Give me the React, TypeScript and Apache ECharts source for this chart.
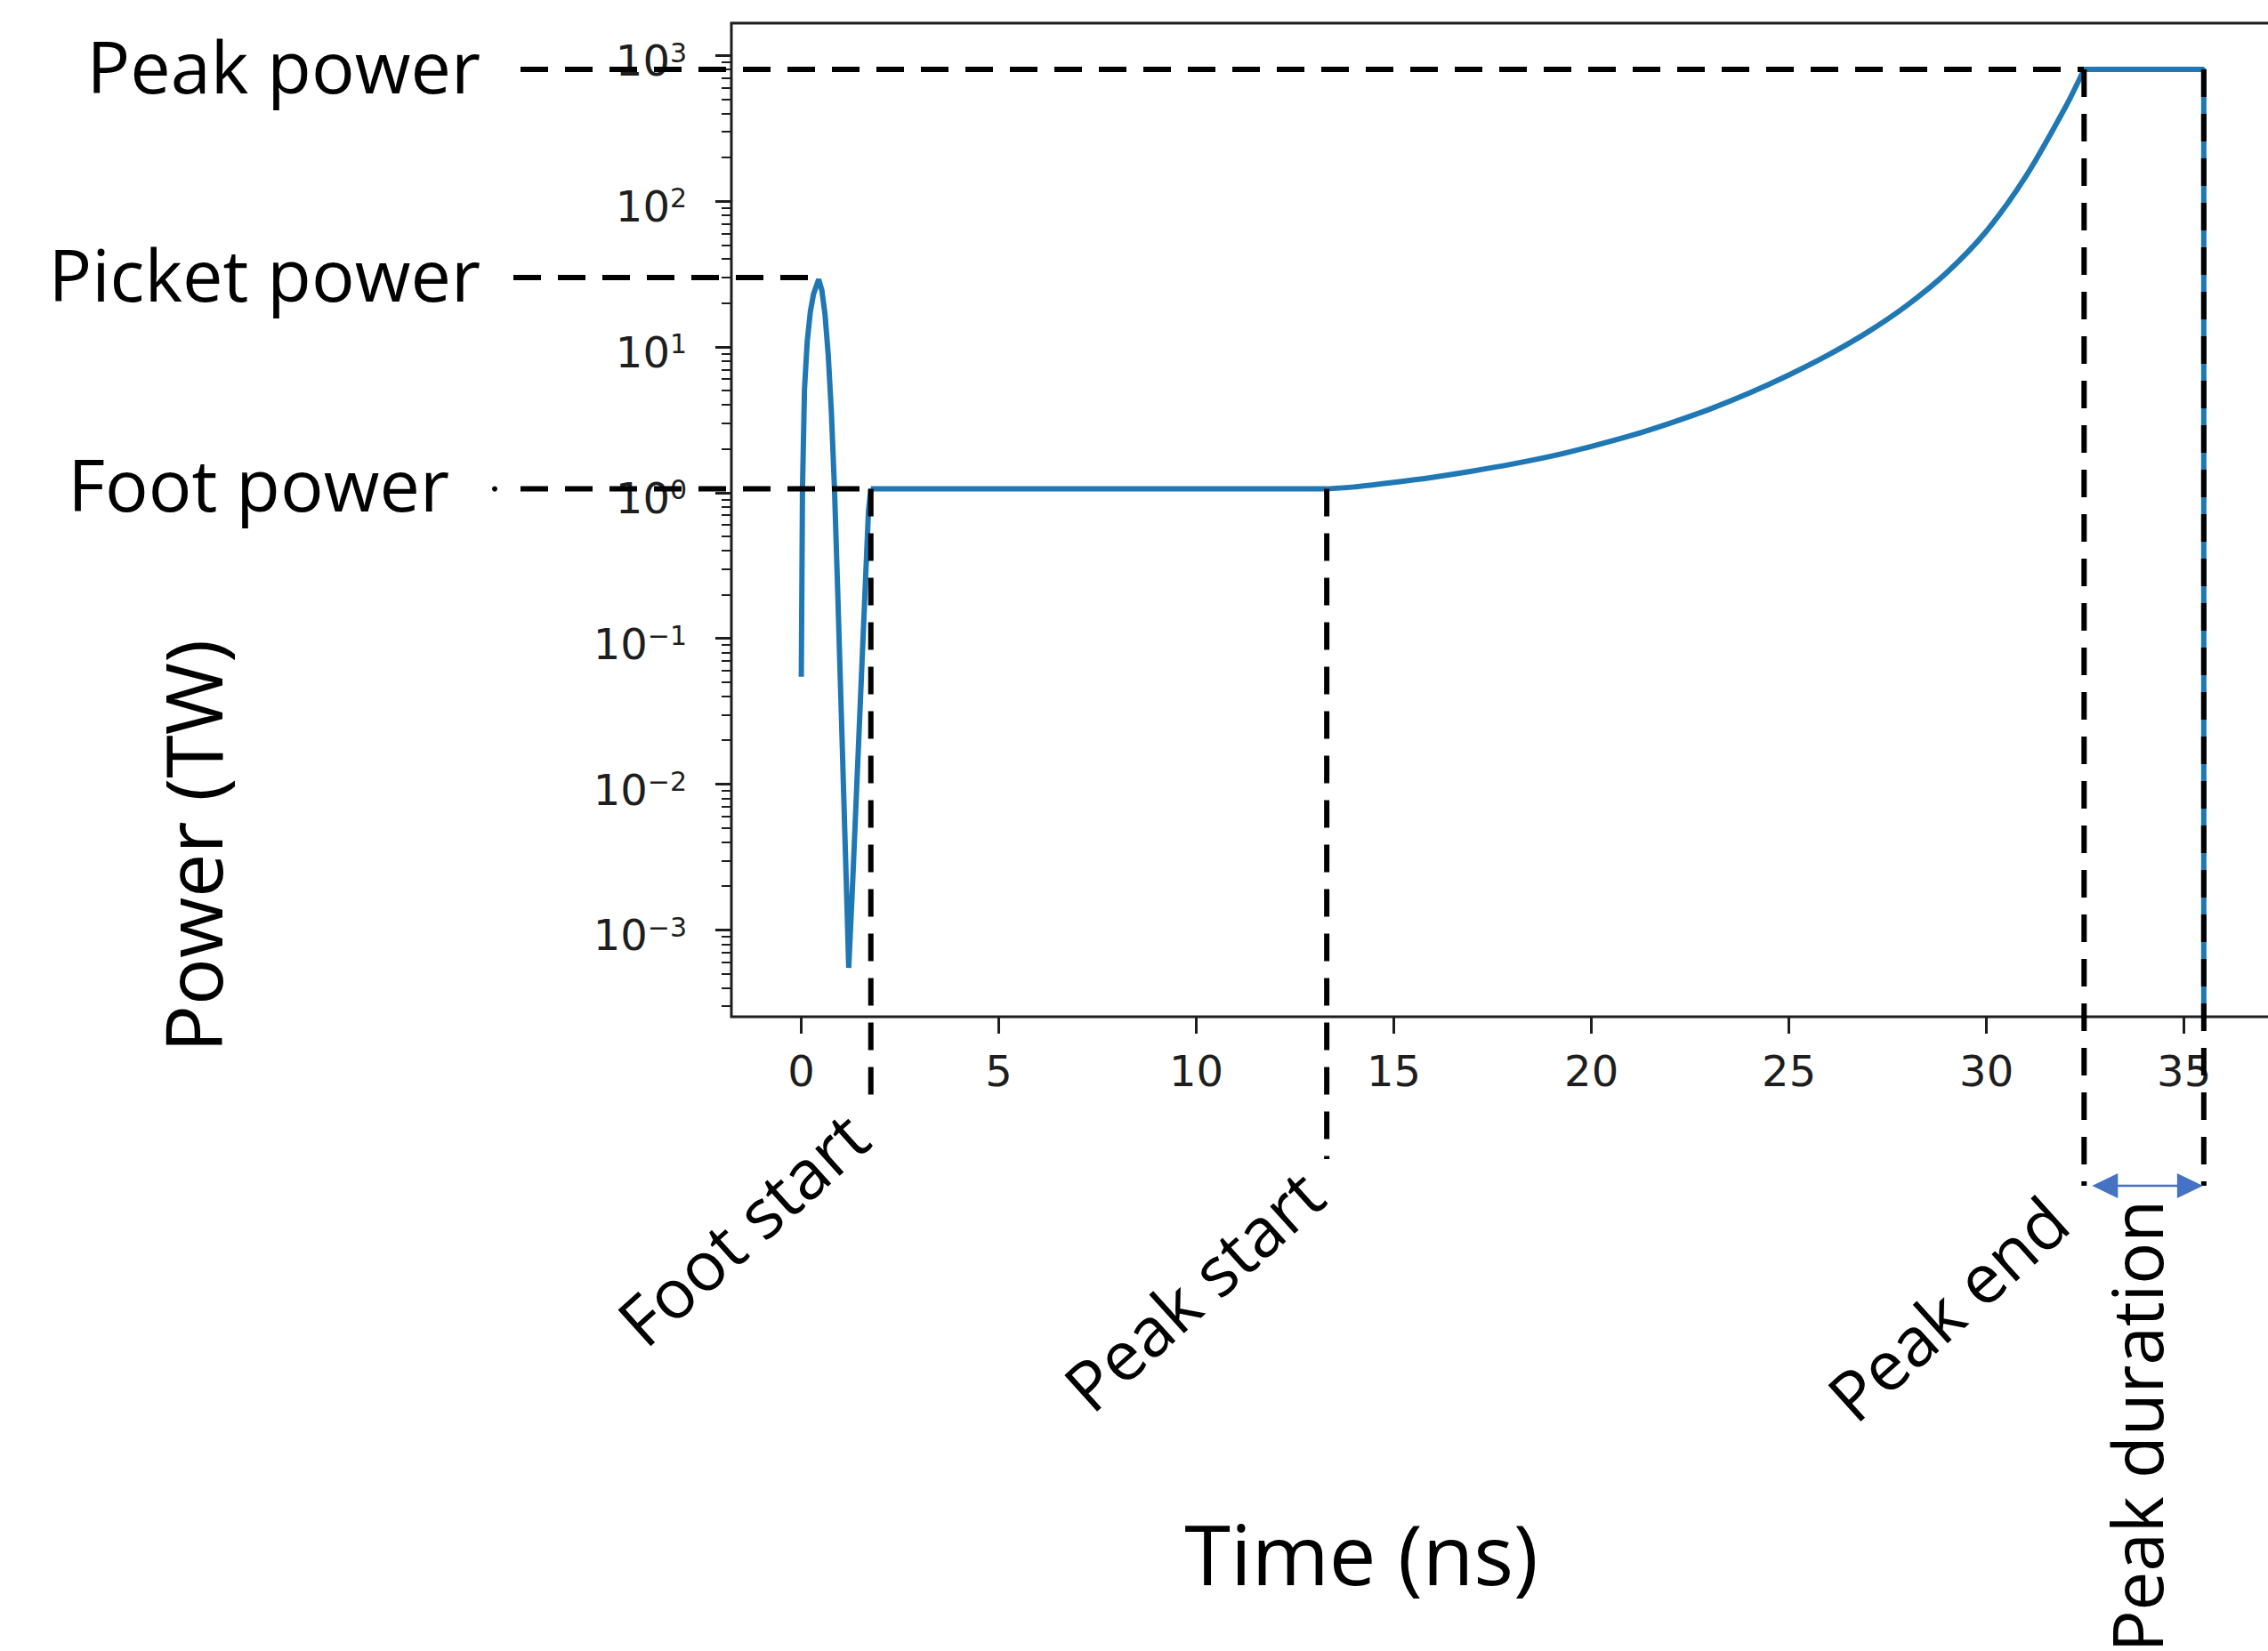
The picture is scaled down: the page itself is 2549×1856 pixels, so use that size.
import React, { useEffect, useRef } from "react";
import * as echarts from "echarts";

// ---- data (time in ns, power in TW) ----
const picketTime = [0, 0.03, 0.08, 0.15, 0.23, 0.31, 0.44, 0.52, 0.6, 0.68, 0.76, 0.84, 0.92, 1.0, 1.08, 1.16, 1.2, 1.3, 1.4, 1.5, 1.6, 1.7, 1.76];
const picketPower = [0.0546, 1.06, 5.08, 10.9, 17.5, 23.0, 29.0, 24.4, 16.7, 8.93, 3.62, 1.06, 0.216, 0.0398, 0.00735, 0.00135, 0.00055, 0.00212, 0.0092, 0.0398, 0.173, 0.746, 1.06];
const footTime = [1.76, 13.3];
const footPower = [1.06, 1.06];
const rampTime = [13.3, 14, 15, 16, 17, 18, 19, 20, 21, 22, 23, 24, 25, 26, 27, 28, 29, 30, 31, 32, 32.47];
const rampPower = [1.06, 1.094, 1.175, 1.276, 1.406, 1.57, 1.782, 2.075, 2.46, 3.0, 3.741, 4.819, 6.412, 8.81, 12.65, 19.36, 32.36, 62.23, 148.3, 441.6, 800];
const peakTime = [32.47, 35.5, 35.5];
const peakPower = [800, 800, 1e-9];

// annotation markers
const footStartTime = 1.76;
const peakStartTime = 13.3;
const peakEndTime = 32.47;
const peakStopTime = 35.5;
const footLevel = 1.06;
const picketTopTime = 0.44;
const picketLevel = 29;
const peakLevel = 800;

// axes
const xTicks = [0, 5, 10, 15, 20, 25, 30, 35];
const yTicks = [1e-3, 1e-2, 1e-1, 1, 10, 100, 1000];
const yTickExp = ["\u22123", "\u22122", "\u22121", "0", "1", "2", "3"];
const xMin = -1.77;
const xMax = 37.17;
const yMin = Math.pow(10, -3.595);
const yMax = Math.pow(10, 3.22);

const minorTicks: number[] = [];
for (let e = -4; e <= 3; e++) {
  for (let m = 2; m <= 9; m++) {
    const v = m * Math.pow(10, e);
    if (v > yMin && v < yMax) minorTicks.push(v);
  }
}

const BLUE = "#1f77b4";
const AXIS = "#1e1e1e";
const ANN_FONT = '"Open Sans", "Noto Sans", sans-serif';
const TICK_FONT = '"DejaVu Sans", sans-serif';

const toPairs = (xs: number[], ys: number[]) => xs.map((x, i) => [x, ys[i]]);

export default function App() {
  const ref = useRef<HTMLDivElement>(null);

  useEffect(() => {
    if (!ref.current) return;
    const chart = echarts.init(ref.current, null, { renderer: "svg" });
    const lineStyle = { color: BLUE, width: 6 };
    const option: any = {
      animation: false,
      backgroundColor: "#ffffff",
      grid: {
        left: 822,
        top: 26,
        right: 49,
        bottom: 713,
        show: true,
        borderColor: AXIS,
        borderWidth: 3,
        containLabel: false,
        outerBoundsMode: "none",
      },
      xAxis: {
        type: "value",
        min: xMin,
        max: xMax,
        axisLine: { show: false, onZero: false },
        splitLine: { show: false },
        axisTick: { show: true, customValues: xTicks, length: 19, lineStyle: { color: AXIS, width: 3 } },
        axisLabel: {
          customValues: xTicks,
          margin: 37,
          color: AXIS,
          fontFamily: TICK_FONT,
          fontSize: 48,
        },
      },
      yAxis: [
        {
          type: "log",
          min: yMin,
          max: yMax,
          axisLine: { show: false, onZero: false },
          splitLine: { show: false },
          minorTick: { show: false },
          axisTick: { show: true, customValues: yTicks, length: 18, lineStyle: { color: AXIS, width: 3 } },
          axisLabel: {
            customValues: yTicks,
            margin: 50,
            padding: [12, 0, 0, 0],
            formatter: (v: number) => {
              const i = yTicks.findIndex((t) => Math.abs(Math.log10(t) - Math.log10(v)) < 1e-6);
              return `{b|10}{s|${yTickExp[i < 0 ? 0 : i]}}`;
            },
            rich: {
              b: { fontFamily: TICK_FONT, fontSize: 48, lineHeight: 48, color: AXIS },
              s: { fontFamily: TICK_FONT, fontSize: 30, lineHeight: 30, verticalAlign: "top", color: AXIS },
            },
          },
        },
        {
          type: "log",
          min: yMin,
          max: yMax,
          position: "left",
          axisLine: { show: false, onZero: false },
          splitLine: { show: false },
          axisLabel: { show: false },
          axisTick: { show: true, customValues: minorTicks, length: 11, lineStyle: { color: AXIS, width: 2 } },
        },
      ],
      series: [
        { type: "line", data: toPairs(picketTime, picketPower), showSymbol: false, symbol: "none", lineStyle, clip: true },
        { type: "line", data: toPairs(footTime, footPower), showSymbol: false, symbol: "none", lineStyle, clip: true },
        {
          type: "line",
          data: toPairs(rampTime, rampPower),
          showSymbol: false,
          symbol: "none",
          smooth: 0.3,
          lineStyle,
          clip: true,
        },
        { type: "line", data: toPairs(peakTime, peakPower), showSymbol: false, symbol: "none", lineStyle, clip: true },
      ],
    };
    chart.setOption(option);

    const px = (t: number, v: number) => chart.convertToPixel({ xAxisIndex: 0, yAxisIndex: 0 }, [t, v]) as number[];
    const [xFoot, yFoot] = px(footStartTime, footLevel);
    const [xPS] = px(peakStartTime, footLevel);
    const [xPE, yPeak] = px(peakEndTime, peakLevel);
    const [xStop] = px(peakStopTime, peakLevel);
    const [xPick, yPick] = px(picketTopTime, picketLevel);

    const dash = { stroke: "#000", lineWidth: 6, lineDash: [31, 19], fill: null };
    const hLine = (x1: number, x2: number, y: number) => ({
      type: "line",
      z: 100,
      shape: { x1, y1: y, x2, y2: y },
      style: dash,
    });
    const vLine = (x: number, y1: number, y2: number) => ({
      type: "line",
      z: 100,
      shape: { x1: x, y1, x2: x, y2 },
      style: dash,
    });
    const txt = (
      text: string,
      x: number,
      y: number,
      size: number,
      align: string,
      rotation = 0
    ) => ({
      type: "text",
      z: 100,
      x,
      y,
      rotation,
      style: {
        text,
        fill: "#000",
        font: `${size}px ${ANN_FONT}`,
        fontSize: size,
        fontFamily: ANN_FONT,
        textAlign: align,
        align,
        textVerticalAlign: "middle",
        verticalAlign: "middle",
      },
    });

    const arrowY = 1333;
    const ARROW = "#4472C4";
    const rot = (42 * Math.PI) / 180;

    chart.setOption({
      graphic: [
        hLine(585, xPE, yPeak),
        hLine(577, xPick, yPick - 2),
        hLine(585, xFoot, yFoot),
        { type: "circle", z: 100, shape: { cx: 556, cy: yFoot, r: 3 }, style: { fill: "#000" } },
        vLine(xFoot, yFoot, 1238),
        vLine(xPS, yFoot, 1303),
        vLine(xPE, yPeak, arrowY),
        vLine(xStop, yPeak, arrowY),
        {
          type: "line",
          z: 101,
          shape: { x1: xPE + 20, y1: arrowY, x2: xStop - 20, y2: arrowY },
          style: { stroke: ARROW, lineWidth: 2.5 },
        },
        {
          type: "polygon",
          z: 101,
          shape: { points: [[xPE + 9, arrowY], [xPE + 38, arrowY - 14], [xPE + 38, arrowY + 14]] },
          style: { fill: ARROW },
        },
        {
          type: "polygon",
          z: 101,
          shape: { points: [[xStop - 1, arrowY], [xStop - 30, arrowY - 14], [xStop - 30, arrowY + 14]] },
          style: { fill: ARROW },
        },
        txt("Peak power", 540, yPeak - 4, 81, "right"),
        txt("Picket power", 540, yPick - 7, 81, "right"),
        txt("Foot power", 505, yFoot - 6, 81, "right"),
        txt("Foot start", xFoot - 16, 1265, 77, "right", rot),
        txt("Peak start", xPS - 17, 1330, 77, "right", rot),
        txt("Peak end", xPE - 31, 1360, 77, "right", rot),
        txt("Peak duration", (xPE + xStop) / 2 - 9, 1349, 78, "right", Math.PI / 2),
        txt("Power (TW)", 216, 951, 88, "center", Math.PI / 2),
        txt("Time (ns)", 1530, 1746, 94, "center"),
      ],
    });

    return () => chart.dispose();
  }, []);

  return (
    <div
      style={{
        position: "fixed",
        left: 0,
        top: 0,
        width: 2549,
        height: 1856,
        overflow: "hidden",
        background: "#fff",
      }}
    >
      <div ref={ref} style={{ width: 2600, height: 1856 }} />
    </div>
  );
}
